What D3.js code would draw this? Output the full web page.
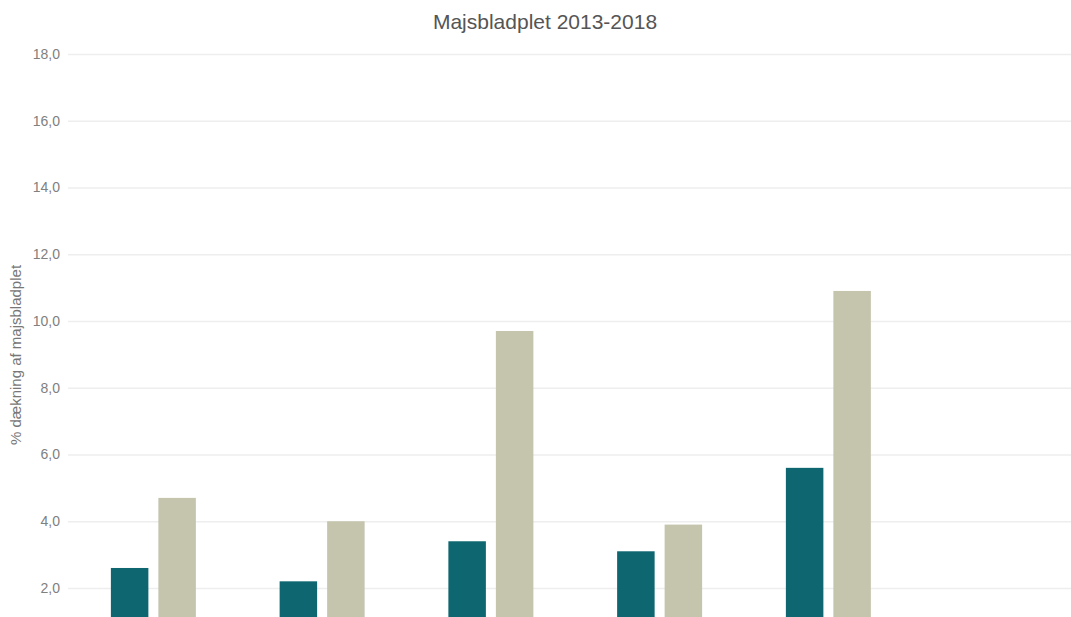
<!DOCTYPE html>
<html>
<head>
<meta charset="utf-8">
<script src="https://cdn.jsdelivr.net/npm/d3@7"></script>
<style>
  html, body { margin: 0; padding: 0; background: #fff; }
  svg { display: block; font-family: "Liberation Sans", Arial, sans-serif; }
</style>
</head>
<body>
<svg id="chart" width="1071" height="617"></svg>
<script>
// Data
const categories = ["2013", "2014", "2015", "2016", "2017", "2018"];
const seriesNames = ["Serie 1", "Serie 2"];
const series1 = [2.6, 2.2, 3.4, 3.1, 5.6, null];
const series2 = [4.7, 4.0, 9.7, 3.9, 10.9, null];
const yTicks = [2, 4, 6, 8, 10, 12, 14, 16, 18];
const colors = ["#0d6670", "#c5c5ae"];

const svg = d3.select("#chart");

const x0 = d3.scaleBand().domain(categories).range([69, 1081.5]).padding(0);
const x1 = d3.scaleBand().domain(seriesNames).range([0, x0.bandwidth()])
  .paddingInner(0.2105).paddingOuter(0.8816);
const y = d3.scaleLinear().domain([0, 18]).range([654.75, 54]);

// Title
svg.append("text")
  .attr("x", 545).attr("y", 29)
  .attr("text-anchor", "middle")
  .attr("font-size", 21)
  .attr("fill", "#555")
  .text("Majsbladplet 2013-2018");

// Gridlines and tick labels
const yAxis = d3.axisLeft(y)
  .tickValues(yTicks)
  .tickSize(-(1090 - 68))
  .tickPadding(8)
  .tickFormat(d => d3.format(".1f")(d).replace(".", ","));

const gAxis = svg.append("g")
  .attr("transform", "translate(68,0)")
  .call(yAxis);
gAxis.select(".domain").remove();
gAxis.selectAll(".tick line")
  .attr("stroke", "#eeeeee")
  .attr("stroke-width", 1.5);
gAxis.selectAll(".tick text")
  .attr("font-size", 14)
  .attr("fill", "#808080")
  .attr("font-family", "'Liberation Sans', Arial, sans-serif");

// Y axis title
svg.append("text")
  .attr("transform", "translate(21,355) rotate(-90)")
  .attr("text-anchor", "middle")
  .attr("font-size", 15)
  .attr("fill", "#777")
  .text("% dækning af majsbladplet");

// Bars
const rows = categories.map((c, i) => ({
  category: c,
  values: [
    { key: seriesNames[0], value: series1[i] },
    { key: seriesNames[1], value: series2[i] }
  ]
}));

const groups = svg.append("g").selectAll("g")
  .data(rows)
  .join("g")
  .attr("transform", d => `translate(${x0(d.category)},0)`);

groups.selectAll("rect")
  .data(d => d.values.filter(v => v.value != null))
  .join("rect")
  .attr("x", d => x1(d.key))
  .attr("width", x1.bandwidth())
  .attr("y", d => y(d.value))
  .attr("height", d => y(0) - y(d.value))
  .attr("fill", d => colors[seriesNames.indexOf(d.key)]);
</script>
</body>
</html>
